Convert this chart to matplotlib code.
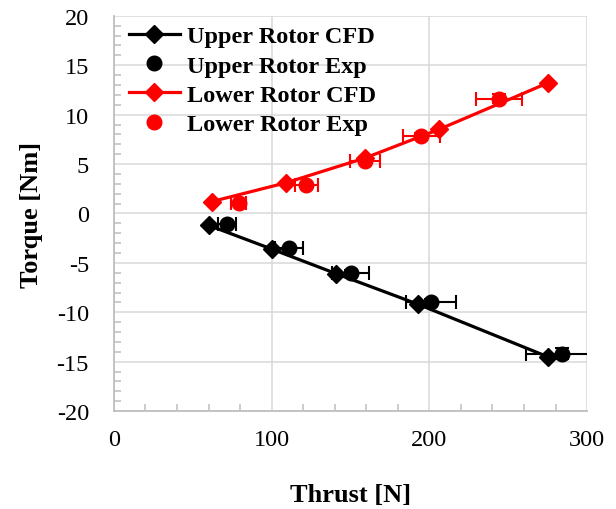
import matplotlib
matplotlib.use("Agg")
import matplotlib.pyplot as plt
from matplotlib.lines import Line2D
from matplotlib.ticker import MultipleLocator
import numpy as np

plt.rcParams['font.family'] = ['Liberation Serif', 'DejaVu Serif']
plt.rcParams['axes.unicode_minus'] = False

# thrust [N] / torque [Nm]
upper_cfd_thrust = [60, 100, 141, 193, 275]
upper_cfd_torque = [-1.2, -3.6, -6.1, -9.2, -14.5]
upper_exp_thrust = [71.5, 111, 150, 201, 284]
upper_exp_torque = [-1.1, -3.5, -6.0, -9.0, -14.2]

lower_cfd_thrust = [62, 109, 159, 206, 275]
lower_cfd_torque = [1.2, 3.1, 5.6, 8.5, 13.2]
lower_exp_thrust = [79, 122, 159, 195, 244]
lower_exp_torque = [1.1, 2.9, 5.3, 7.8, 11.6]

upper_xerr = 0.08   # relative thrust uncertainty
lower_xerr = 0.06
yerr_rel = 0.04

fig = plt.figure(figsize=(6.16, 5.10), dpi=100)
ax = fig.add_axes([0.185, 0.192, 0.768, 0.775])

ax.plot(upper_cfd_thrust, upper_cfd_torque, color="black", lw=2.3,
        marker="D", ms=9, zorder=3)
ue_t = np.array(upper_exp_thrust)
ue_q = np.array(upper_exp_torque)
ax.errorbar(ue_t, ue_q, xerr=ue_t * upper_xerr, yerr=np.abs(ue_q) * yerr_rel,
            fmt="o", color="black", ms=10.5, elinewidth=1.5, capsize=5,
            capthick=1.5, zorder=4)

ax.plot(lower_cfd_thrust, lower_cfd_torque, color="red", lw=2.3,
        marker="D", ms=9, zorder=3)
le_t = np.array(lower_exp_thrust)
le_q = np.array(lower_exp_torque)
ax.errorbar(le_t, le_q, xerr=le_t * lower_xerr, yerr=np.abs(le_q) * yerr_rel,
            fmt="o", color="red", ms=10.5, elinewidth=1.5, capsize=5,
            capthick=1.5, zorder=4)

ax.set_xlim(0, 300)
ax.set_ylim(-20, 20)
ax.xaxis.set_major_locator(MultipleLocator(100))
ax.xaxis.set_minor_locator(MultipleLocator(20))
ax.yaxis.set_major_locator(MultipleLocator(5))
ax.yaxis.set_minor_locator(MultipleLocator(1))
ax.grid(True, which="major", color="#d9d9d9", lw=1.1, zorder=0)
ax.set_axisbelow(True)

for side in ["top", "right"]:
    ax.spines[side].set_visible(False)
for side in ["left", "bottom"]:
    ax.spines[side].set_color("#bfbfbf")
    ax.spines[side].set_linewidth(1.3)

ax.tick_params(which="both", direction="in", color="#bfbfbf", width=1.1)
ax.tick_params(which="major", length=0, labelsize=17.5)
ax.tick_params(axis="y", which="major", pad=18)
ax.tick_params(axis="x", which="major", pad=13)
ax.tick_params(which="minor", length=5)

ax.set_xlabel("Thrust [N]", fontsize=19, fontweight="bold", labelpad=24)
ax.set_ylabel("Torque [Nm]", fontsize=19, fontweight="bold", labelpad=10)

handles = [
    Line2D([], [], color="black", lw=2.3, marker="D", ms=9),
    Line2D([], [], color="black", lw=0, marker="o", ms=10.5),
    Line2D([], [], color="red", lw=2.3, marker="D", ms=9),
    Line2D([], [], color="red", lw=0, marker="o", ms=10.5),
]
labels = ["Upper Rotor CFD", "Upper Rotor Exp", "Lower Rotor CFD", "Lower Rotor Exp"]
ax.legend(handles, labels, loc="upper left", frameon=False,
          prop={"weight": "bold", "size": 17.5},
          handlelength=2.1, handletextpad=0.3, labelspacing=0.3,
          borderaxespad=0.2, bbox_to_anchor=(0.0, 1.013))

fig.savefig("out.png", dpi=100)
